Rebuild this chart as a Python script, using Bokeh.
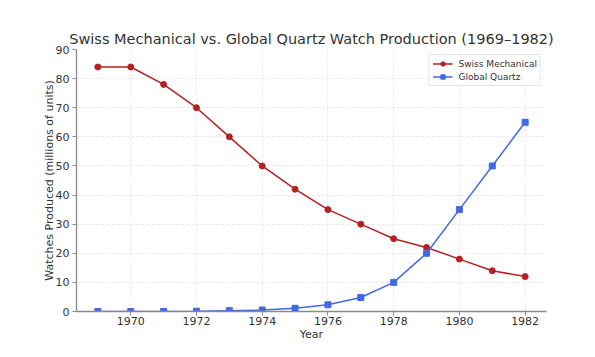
from bokeh.plotting import figure
from bokeh.embed import file_html
from bokeh.resources import INLINE
from bokeh.models import FixedTicker, Range1d, Legend, LegendItem

years = [1969, 1970, 1971, 1972, 1973, 1974, 1975, 1976, 1977, 1978, 1979, 1980, 1981, 1982]
swiss = [84, 84, 78, 70, 60, 50, 42, 35, 30, 25, 22, 18, 14, 12]
quartz = [0, 0, 0, 0.1, 0.3, 0.5, 1.1, 2.3, 4.8, 10, 20, 35, 50, 65]
x_ticks = [1970, 1972, 1974, 1976, 1978, 1980, 1982]
y_ticks = [0, 10, 20, 30, 40, 50, 60, 70, 80, 90]

FONT = "DejaVu Sans"
SWISS_C = "#b22222"
QUARTZ_C = "#4169e1"

p = figure(frame_width=470, frame_height=262, output_backend="svg", toolbar_location=None,
           x_range=Range1d(1968.35, 1982.65), y_range=Range1d(0, 90),
           title="Swiss Mechanical vs. Global Quartz Watch Production (1969\u20131982)",
           min_border_left=76, min_border_right=41, min_border_top=49, min_border_bottom=38)

p.title.align = "center"
p.title.text_font = FONT
p.title.text_font_size = "14.5px"
p.title.text_font_style = "normal"
p.title.text_color = "#333333"
p.title.offset = 0
p.title.standoff = 6

p.outline_line_color = None
p.background_fill_color = "white"

for ax in (p.xaxis[0], p.yaxis[0]):
    ax.axis_line_color = "#8a8a8a"
    ax.axis_line_width = 1.3
    ax.major_tick_line_color = "#8a8a8a"
    ax.major_tick_out = 4
    ax.major_tick_in = 0
    ax.minor_tick_line_color = None
    ax.major_label_text_font = FONT
    ax.major_label_text_font_size = "11px"
    ax.major_label_text_color = "#333333"
    ax.axis_label_text_font = FONT
    ax.axis_label_text_font_size = "11px"
    ax.axis_label_text_font_style = "normal"
    ax.axis_label_text_color = "#333333"

p.xaxis.ticker = FixedTicker(ticks=x_ticks)
p.yaxis.ticker = FixedTicker(ticks=y_ticks)
p.xaxis.axis_label = "Year"
p.yaxis.axis_label = "Watches Produced (millions of units)"
p.xaxis.major_label_standoff = 1
p.yaxis.major_label_standoff = 3
p.xaxis.axis_label_standoff = 0
p.yaxis.axis_label_standoff = -3

for g in (p.xgrid[0], p.ygrid[0]):
    g.grid_line_color = "#dddddd"
    g.grid_line_dash = "3 2"
    g.grid_line_width = 0.8
    g.grid_line_alpha = 0.8
p.xgrid.ticker = FixedTicker(ticks=x_ticks)
p.ygrid.ticker = FixedTicker(ticks=y_ticks)

l1 = p.line(years, swiss, line_color=SWISS_C, line_width=1.5)
s1 = p.scatter(years, swiss, marker="circle", size=6, fill_color=SWISS_C, line_color=SWISS_C)
l2 = p.line(years, quartz, line_color=QUARTZ_C, line_width=1.5)
s2 = p.scatter(years, quartz, marker="square", size=6, fill_color=QUARTZ_C, line_color=QUARTZ_C)

legend = Legend(items=[LegendItem(label="Swiss Mechanical", renderers=[l1, s1]),
                       LegendItem(label="Global Quartz", renderers=[l2, s2])],
                location="top_right")
legend.label_text_font = FONT
legend.label_text_font_size = "9px"
legend.label_text_color = "#333333"
legend.border_line_color = "#cccccc"
legend.border_line_width = 1
legend.background_fill_alpha = 0.9
legend.margin = 5
legend.padding = 3
legend.spacing = 2
legend.glyph_width = 20
legend.glyph_height = 11
legend.label_height = 11
legend.label_standoff = 6
p.add_layout(legend)

open("out.html", "w").write(file_html(p, INLINE))
